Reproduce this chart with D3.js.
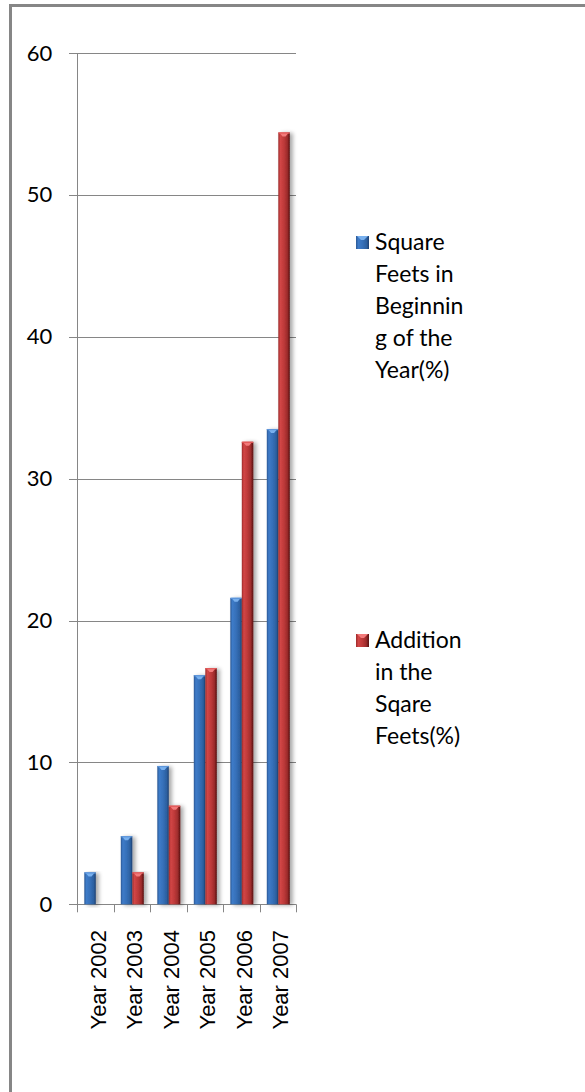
<!DOCTYPE html>
<html>
<head>
<meta charset="utf-8">
<script src="https://cdn.jsdelivr.net/npm/d3@7"></script>
<style>
  html, body { margin: 0; padding: 0; background: #ffffff; }
  svg { display: block; }
</style>
</head>
<body>
<div id="chart"></div>
<script>
// Chart data
const years = ["Year 2002", "Year 2003", "Year 2004", "Year 2005", "Year 2006", "Year 2007"];
const seriesNames = ["Square Feets in Beginning of the Year(%)", "Addition in the Sqare Feets(%)"];
const beginningValues = [2.25, 4.8, 9.75, 16.15, 21.6, 33.5];
const additionValues = [null, 2.25, 6.95, 16.65, 32.6, 54.4];
const yTicks = [0, 10, 20, 30, 40, 50, 60];
const legendLines = [
  ["Square", "Feets in", "Beginnin", "g of the", "Year(%)"],
  ["Addition", "in the", "Sqare", "Feets(%)"]
];

const W = 585, H = 1092;
const svg = d3.select("#chart").append("svg")
  .attr("width", W).attr("height", H);

const defs = svg.append("defs");

// Cylinder-style horizontal gradients for both series
function addGradient(id, stops) {
  const g = defs.append("linearGradient").attr("id", id)
    .attr("x1", "0%").attr("x2", "100%").attr("y1", "0%").attr("y2", "0%");
  stops.forEach(([o, c]) => g.append("stop").attr("offset", o).attr("stop-color", c));
}
addGradient("gBlue", [["0%", "#2b5894"], ["18%", "#3e7bc8"], ["50%", "#3670b9"], ["82%", "#2c5f9f"], ["100%", "#1d3f70"]]);
addGradient("gRed", [["0%", "#9c2a2a"], ["18%", "#d24646"], ["50%", "#bd3939"], ["78%", "#9e2c2c"], ["100%", "#561111"]]);

const shadow = defs.append("filter").attr("id", "shadow")
  .attr("x", "-50%").attr("y", "-5%").attr("width", "220%").attr("height", "115%");
shadow.append("feGaussianBlur").attr("in", "SourceAlpha").attr("stdDeviation", 2.2).attr("result", "b");
shadow.append("feOffset").attr("in", "b").attr("dx", 3).attr("dy", 1).attr("result", "o");
shadow.append("feComponentTransfer").attr("in", "o").attr("result", "s")
  .append("feFuncA").attr("type", "linear").attr("slope", 0.35);
const merge = shadow.append("feMerge");
merge.append("feMergeNode").attr("in", "s");
merge.append("feMergeNode").attr("in", "SourceGraphic");

// Outer frame
svg.append("rect")
  .attr("x", 10.5).attr("y", 5.5).attr("width", 600).attr("height", 1100)
  .attr("fill", "none").attr("stroke", "#868686").attr("stroke-width", 3);

// Scales
const y = d3.scaleLinear().domain([0, 60]).range([904.3, 53]);
const x = d3.scaleBand().domain(years).range([77.3, 296.3]).paddingInner(0).paddingOuter(0);
const xs = d3.scaleBand().domain([0, 1]).range([7, 30]);

const axisColor = "#868686";

// Horizontal gridlines with left tick stubs, and y tick labels
const yAxis = svg.append("g").attr("transform", "translate(77.3,0)")
  .call(d3.axisLeft(y).tickValues(yTicks).tickSize(8).tickPadding(17).tickFormat(d3.format("d")));
yAxis.select(".domain").remove();
yAxis.selectAll(".tick line").attr("stroke", axisColor);
yAxis.selectAll(".tick text")
  .attr("fill", "#000").style("font-family", "Lato, 'Open Sans', sans-serif").style("font-size", "22px");
yAxis.selectAll(".tick").append("line")
  .attr("x1", 0).attr("x2", 296.3 - 77.3).attr("stroke", axisColor).attr("shape-rendering", "crispEdges");
yAxis.selectAll(".tick line").attr("shape-rendering", "crispEdges");

// Vertical axis line
svg.append("line")
  .attr("x1", 77.5).attr("x2", 77.5).attr("y1", y(60)).attr("y2", y(0) + 8)
  .attr("stroke", axisColor);

// Category boundary ticks below the baseline
const bounds = years.map(d => x(d)).concat([x.range()[1]]);
svg.append("g").selectAll("line").data(bounds.slice(1)).join("line")
  .attr("x1", d => Math.round(d) + 0.5).attr("x2", d => Math.round(d) + 0.5)
  .attr("y1", y(0)).attr("y2", y(0) + 8)
  .attr("stroke", axisColor);

// Bars
const rows = [];
years.forEach((yr, i) => {
  rows.push({ year: yr, s: 0, v: beginningValues[i] });
  if (additionValues[i] != null) rows.push({ year: yr, s: 1, v: additionValues[i] });
});

const bars = svg.append("g").selectAll("g").data(rows).join("g")
  .attr("filter", "url(#shadow)");

bars.append("rect")
  .attr("x", d => x(d.year) + xs(d.s))
  .attr("y", d => y(d.v))
  .attr("width", xs.bandwidth())
  .attr("height", d => y(0) - y(d.v))
  .attr("fill", d => d.s === 0 ? "url(#gBlue)" : "url(#gRed)");

// Light bevelled cap at the top of every bar
bars.append("path")
  .attr("d", d => {
    const x0 = x(d.year) + xs(d.s), w = xs.bandwidth(), t = y(d.v);
    return `M${x0 + 1},${t} L${x0 + w - 1},${t} L${x0 + w / 2 + 1.5},${t + 4} L${x0 + w / 2 - 1.5},${t + 4} Z`;
  })
  .attr("fill", d => d.s === 0 ? "#78b0ee" : "#f27a7a");
bars.append("rect")
  .attr("x", d => x(d.year) + xs(d.s))
  .attr("y", d => y(d.v))
  .attr("width", xs.bandwidth()).attr("height", 1.2)
  .attr("fill", d => d.s === 0 ? "#5d95da" : "#e25a5a");

// Rotated category labels
svg.append("g").selectAll("text").data(years).join("text")
  .attr("transform", d => `translate(${x(d) + x.bandwidth() / 2 + 10},930) rotate(-90)`)
  .attr("text-anchor", "end")
  .style("font-family", "'Liberation Sans', Arial, sans-serif")
  .style("font-size", "22px")
  .attr("fill", "#000")
  .text(d => d);

// Legend
const legendTop = [236, 634];
const legend = svg.append("g");
seriesNames.forEach((name, i) => {
  const g = legend.append("g").attr("transform", `translate(356,${legendTop[i]})`);
  g.append("rect").attr("width", 13).attr("height", 13)
    .attr("fill", i === 0 ? "url(#gBlue)" : "url(#gRed)");
  g.append("path").attr("d", "M1,0 L12,0 L8,4 L5,4 Z")
    .attr("fill", i === 0 ? "#78b0ee" : "#f27a7a");
  const t = g.append("text")
    .style("font-family", "Lato, 'Open Sans', sans-serif")
    .style("font-size", "23px")
    .attr("fill", "#000");
  t.append("title").text(name);
  legendLines[i].forEach((line, j) => {
    t.append("tspan").attr("x", 19).attr("y", 14 + j * 32).text(line);
  });
});
</script>
</body>
</html>
